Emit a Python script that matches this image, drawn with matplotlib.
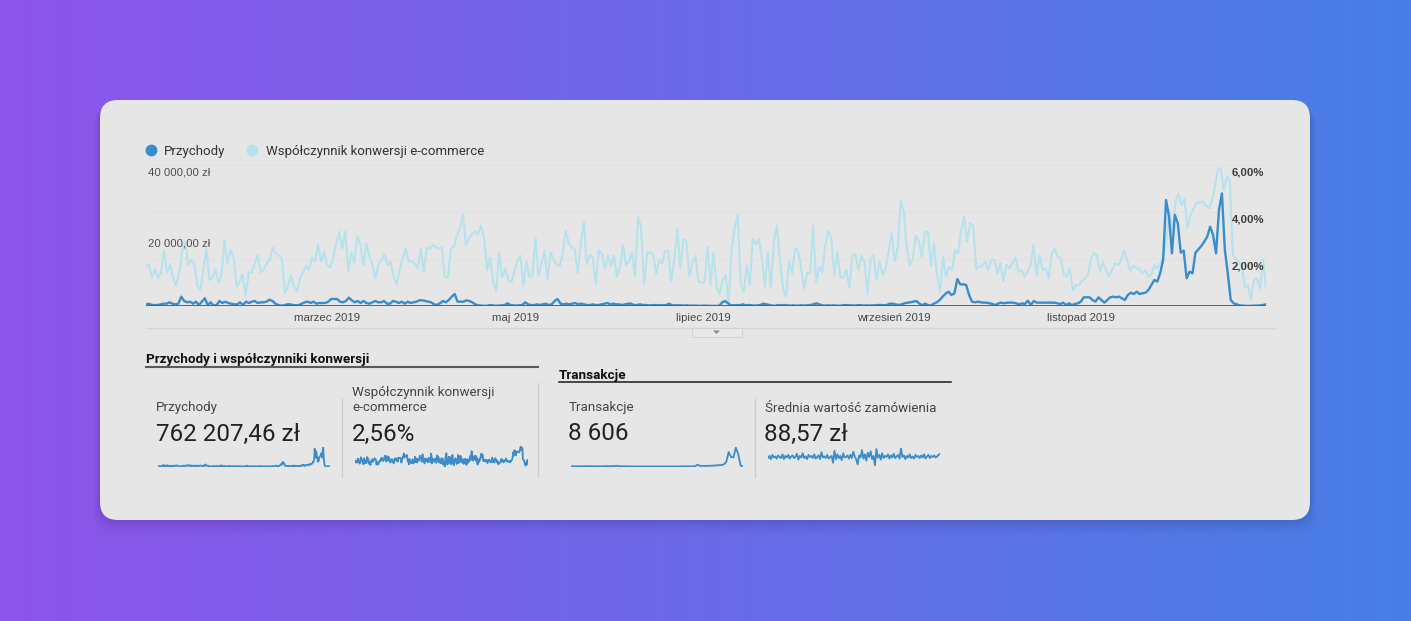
import numpy as np
import pandas as pd
import matplotlib
matplotlib.use("Agg")
import matplotlib.pyplot as plt
from matplotlib.patches import FancyBboxPatch, Rectangle, Polygon

# daily revenue (zł), 2019
revenue = [
    470, 660, 280, 280, 280, 470, 660, 660, 1040, 660, 470, 660, 2650, 1420, 1040, 1230, 660, 1230, 280, 1230,
    2180, 280, 1040, 100, 280, 1420, 850, 1230, 850, 660, 470, 470, 1040, 280, 1230, 850, 1230, 1420, 850, 1040,
    1040, 1230, 1800, 1420, 660, 280, 100, 190, 470, 470, 280, 190, 280, 660, 1040, 1230, 850, 1230, 660, 850,
    850, 850, 1230, 1990, 1990, 1990, 1230, 1040, 1420, 2360, 1610, 1040, 1420, 850, 1420, 850, 660, 1040, 1420, 1040,
    1040, 1420, 660, 660, 1420, 1230, 850, 1230, 660, 1230, 850, 1040, 1230, 1610, 1610,
    1420, 1230, 1040, 470, 280, 760, 1420, 1040, 1700, 2650, 3400, 1230, 1230, 1230, 1610, 1420, 1040, 470, 190, 120,
    60, 60, 280, 190, 60, 120, 190, 280, 760, 280, 190, 120, 190, 280, 1040, 470, 280, 280, 470, 280,
    470, 660, 280, 470, 1420, 1990, 660, 470, 660, 470, 660, 850, 470, 660, 470, 280, 280, 470, 280, 280,
    470, 660, 850, 470, 660, 470, 470, 280, 470, 660, 660, 280, 280, 470, 280, 280, 190, 190, 280, 190,
    280, 190, 280, 660, 190, 190, 190, 190, 120, 190, 60, 120, 120, 60, 60,
    120, 60, 60, 20, 20, 60, 1040, 1420, 760, 190, 190, 280, 190, 470, 190, 280, 190, 120, 190, 280,
    660, 470, 280, 120, 60, 280, 190, 280, 190, 120, 190, 120, 120, 190, 120, 190, 280, 470, 760, 470,
    190, 120, 190, 120, 190, 120, 60, 190, 280, 190, 190, 120, 190, 280, 120, 190, 120, 190, 190, 280,
    280, 190, 280, 660, 660, 470, 280, 470, 760, 945, 1040, 1230, 1420, 760, 190, 660, 280, 120, 660, 1040,
    1700, 2650, 3500, 4070, 3120, 3590, 7660, 6150, 6150, 5960, 3120, 1230, 1040, 1230, 1040,
    950, 950, 760, 570, 280, 760, 950, 760, 950, 950, 950, 760, 470, 760, 570, 1510, 280, 1420, 950, 950,
    950, 950, 950, 950, 950, 760, 570, 950, 280, 760, 280, 570, 760, 1230, 2460, 2460, 2460, 1700, 1230, 2460,
    1700, 950, 1700, 2460, 2650, 2460, 2650, 2180, 1700, 3120, 3780, 3400, 4070, 3400, 3590, 3780, 4540, 5960, 7380, 6900,
    9270, 13050, 30070, 25340, 14940, 25820, 23450, 15130, 15700, 7850, 9740, 9270, 15130, 16080, 17020, 18250, 19670, 22510, 20140, 14940,
    27240, 31960, 15890, 9270, 1700, 760, 470, 190, 100, 30, 30, 30, 100, 100, 190, 280, 470,
]

# daily e-commerce conversion rate (%)
conversion_rate = [
    1.72, 1.74, 1.21, 1.57, 1.18, 1.46, 2.34, 1.43, 1.77, 1.18, 0.87, 1.43, 2.38, 2.74, 1.74, 1.96, 1.82, 0.89, 0.68, 1.53,
    2.43, 1.11, 1.21, 1.57, 1.01, 1.32, 2.81, 1.82, 2.38, 2.10, 0.82, 1.04, 1.35, 0.44, 1.43, 1.43, 1.82, 2.17, 1.43, 1.57,
    1.82, 1.96, 2.48, 2.24, 2.17, 2.03, 0.54, 0.82, 1.32, 0.82, 0.61, 1.18, 1.39, 1.74, 1.53, 2.06, 1.89, 2.60, 1.89, 2.31,
    1.74, 1.63, 2.06, 2.67, 3.16, 2.45, 3.16, 1.46, 2.28, 1.82, 2.99, 2.60, 1.74, 2.67, 2.10, 1.74, 1.18, 1.74, 1.96, 2.20,
    1.74, 1.89, 1.25, 0.92, 1.53, 2.03, 2.45, 1.89, 1.89, 1.82, 1.60, 2.45, 1.46, 2.48, 2.45,
    2.60, 2.52, 2.43, 2.48, 1.25, 1.21, 2.43, 2.52, 3.02, 3.31, 3.90, 2.60, 2.88, 3.05, 3.16, 3.05, 3.42, 2.88, 1.53, 2.06,
    1.04, 0.64, 2.24, 1.21, 1.60, 1.11, 1.01, 1.46, 1.89, 2.14, 0.89, 1.89, 1.25, 1.32, 2.91, 1.28, 1.82, 2.34, 1.15, 2.28,
    2.00, 1.74, 1.70, 2.17, 3.19, 2.67, 2.48, 2.45, 1.39, 2.67, 3.59, 1.77, 2.17, 2.06, 0.92, 2.38, 2.24, 1.57, 2.14, 1.72,
    2.14, 1.25, 1.67, 2.60, 1.74, 1.89, 2.28, 1.25, 3.80, 3.31, 0.92, 2.28, 2.28, 2.20, 1.39, 1.96, 1.82, 2.34, 2.34, 1.04,
    1.96, 3.26, 1.60, 2.84, 2.78, 1.25, 1.82, 2.13, 1.04, 1.01, 1.01, 2.50, 0.89,
    2.28, 0.82, 0.50, 1.11, 1.32, 0.05, 2.45, 3.31, 3.90, 0.97, 0.61, 1.72, 0.89, 2.88, 2.62, 2.85, 2.03, 0.82, 2.28, 0.78,
    2.74, 3.42, 1.89, 0.75, 0.40, 1.89, 1.39, 2.45, 2.34, 1.60, 0.75, 1.39, 1.42, 3.42, 1.01, 1.67, 1.43, 2.60, 3.19, 2.88,
    1.32, 2.31, 1.22, 1.21, 1.53, 0.78, 2.17, 2.20, 1.53, 2.13, 1.89, 0.50, 1.96, 2.17, 1.11, 1.89, 1.32, 1.60, 2.31, 3.09,
    1.89, 2.48, 4.51, 4.01, 2.52, 1.72, 2.03, 2.99, 2.74, 2.10, 3.16, 3.14, 1.72, 2.67, 1.32, 0.58, 2.10, 1.25, 1.67, 1.53,
    2.38, 2.24, 3.19, 3.80, 2.74, 3.52, 3.42, 1.60, 1.67, 1.72, 1.89, 1.53,
    1.96, 1.96, 1.39, 1.82, 1.04, 1.74, 1.60, 1.82, 2.07, 1.46, 1.53, 1.25, 1.46, 1.70, 2.60, 1.32, 2.17, 1.53, 1.60, 1.18,
    2.24, 2.45, 2.10, 2.03, 1.32, 1.25, 1.60, 0.68, 0.89, 0.89, 1.04, 1.18, 1.32, 2.03, 2.24, 2.17, 1.46, 1.89, 1.53, 1.25,
    1.53, 1.82, 1.74, 1.96, 2.38, 1.96, 1.46, 1.74, 1.60, 1.60, 1.39, 1.53, 1.25, 1.32, 1.74, 1.60, 1.82, 2.10, 2.81, 4.09,
    3.16, 4.44, 4.79, 4.30, 4.54, 3.31, 3.87, 4.16, 4.37, 4.44, 4.44, 4.30, 4.16, 4.44, 5.01, 5.79, 5.86, 4.94, 5.50, 5.36,
    2.24, 1.96, 1.89, 1.67, 0.82, 0.85, 0.26, 1.11, 1.18, 0.75, 1.96, 0.75,
]

# sparkline series read from the scorecards
transactions_spark = [
    12, 10, 11, 9, 12, 10, 11, 13, 12, 11, 10, 12, 11, 10, 12, 13, 12, 14, 15, 20,
    14, 12, 11, 10, 9, 8, 9, 8, 8, 9, 8, 8, 9, 8, 8, 9, 8, 8, 9, 8,
    9, 8, 9, 8, 9, 8, 9, 10, 10, 9, 10, 11, 12, 40, 18, 16, 17, 18, 20, 22,
    24, 28, 30, 34, 45, 90, 270, 180, 170, 350, 230, 25, 10,
]
avg_order_spark = [
    84, 92, 80, 96, 86, 90, 82, 94, 88, 84, 98, 80, 92, 86, 96, 82, 90, 94, 84, 88,
    100, 78, 92, 86, 102, 84, 90, 80, 96, 88, 92, 84, 98, 82, 88, 94, 80, 106, 86, 90,
    84, 96, 82, 88, 92, 66, 112, 80, 98, 84, 92, 76, 102, 86, 88, 94, 82, 96, 84, 108,
    90, 80, 60, 94, 86, 114, 82, 98, 74, 104, 88, 110, 80, 92, 56, 118, 86, 96, 78, 102,
    84, 92, 88, 98, 82, 94, 86, 100, 84, 90, 96, 82, 120, 88, 94, 80, 92, 86, 98, 84,
    90, 82, 96, 88, 92, 84, 94, 86, 98, 82, 90, 96, 84, 92, 88, 94, 86, 90, 96, 100,
]

month_ticks = ["2019-03-01", "2019-05-01", "2019-07-01", "2019-09-01", "2019-11-01"]
month_labels = ["marzec 2019", "maj 2019", "lipiec 2019", "wrzesień 2019", "listopad 2019"]
rev_ticks = [20000, 40000]
rev_tick_labels = ["20 000,00 zł", "40 000,00 zł"]
conv_ticks = [2, 4, 6]
conv_tick_labels = ["2,00%", "4,00%", "6,00%"]

series_names = ["Przychody", "Współczynnik konwersji e-commerce"]
cards = [
    ("Przychody", "762 207,46 zł"),
    ("Współczynnik konwersji\ne-commerce", "2,56%"),
    ("Transakcje", "8 606"),
    ("Średnia wartość zamówienia", "88,57 zł"),
]

DARK = "#3a8dca"
LIGHT = "#b5e2ec"
ROBOTO = ["Roboto", "DejaVu Sans"]
ARIAL = ["Liberation Sans", "DejaVu Sans"]

W, H = 1411, 621
fig = plt.figure(figsize=(W / 100, H / 100), dpi=100)


def box(x0, y0, x1, y1):
    return [x0 / W, 1 - y1 / H, (x1 - x0) / W, (y1 - y0) / H]


# background gradient + card
bg = fig.add_axes([0, 0, 1, 1])
t = np.linspace(0, 1, 512)
c1 = np.array(matplotlib.colors.to_rgb("#8d54ea"))
c2 = np.array(matplotlib.colors.to_rgb("#477fe5"))
grad = c1[None, None, :] * (1 - t[None, :, None]) + c2[None, None, :] * t[None, :, None]
bg.imshow(grad, extent=[0, W, H, 0], aspect="auto", zorder=0)
for k, a in [(14, 0.025), (10, 0.03), (6, 0.04), (3, 0.05)]:
    bg.add_patch(FancyBboxPatch((100 - k / 2, 100 + k / 2), 1210 + k, 420 + k / 2,
                                boxstyle="round,pad=0,rounding_size=22",
                                fc="#1a1040", ec="none", alpha=a, zorder=1))
bg.add_patch(FancyBboxPatch((100, 100), 1210, 420, boxstyle="round,pad=0,rounding_size=18",
                            fc="#e6e6e6", ec="none", zorder=2))
bg.set_xlim(0, W)
bg.set_ylim(H, 0)
bg.axis("off")

# legend
bg.plot(151, 150, "o", ms=7.5, color=DARK, zorder=3)
bg.text(164, 151.5, series_names[0], va="center", fontsize=9.5, color="#333333", family=ROBOTO, zorder=3)
bg.plot(252, 150, "o", ms=7.5, color=LIGHT, zorder=3)
bg.text(266, 151.5, series_names[1], va="center", fontsize=9.5, color="#333333", family=ROBOTO, zorder=3)

# divider with tab below chart
bg.plot([146, 1276], [328, 328], color="#d6d6d6", lw=0.9, zorder=3)
bg.add_patch(Rectangle((692, 328), 50, 9, fc="#e9e9e9", ec="#d3d3d3", lw=0.8, zorder=3))
bg.add_patch(Polygon([[713, 330.5], [720, 330.5], [716.5, 334]], closed=True, fc="#8a8a8a", ec="none", zorder=4))

# main chart
ax = fig.add_axes(box(146, 165, 1266, 306))
conv_dates = pd.date_range("2019-01-01", "2019-12-31", periods=len(conversion_rate))
rev_dates = pd.date_range("2019-01-01", "2019-12-31", periods=len(revenue))
for v in conv_ticks:
    ax.axhline(v, color="#e0e0e0", lw=0.7, zorder=0)
ax.plot(conv_dates, conversion_rate, color=LIGHT, lw=1.5)
ax.set_ylim(0, 6)
ax.set_xlim(pd.Timestamp("2019-01-01"), pd.Timestamp("2019-12-31"))
ax2 = ax.twinx()
ax2.plot(rev_dates, revenue, color=DARK, lw=1.7)
ax2.axhline(0, color="#606060", lw=1.4)
ax2.set_ylim(0, 40000)
for a in (ax, ax2):
    a.patch.set_alpha(0)
    a.set_yticks([])
    for s in a.spines.values():
        s.set_visible(False)
ax.set_xticks(pd.to_datetime(month_ticks))
ax.set_xticklabels(month_labels, fontsize=8.2, color="#474747", family=ARIAL)
ax.tick_params(axis="x", length=0, pad=5)
for v, lab in zip(rev_ticks, rev_tick_labels):
    ax2.annotate(lab, xy=(0, v), xycoords=ax2.get_yaxis_transform(), xytext=(1.5, -2),
                 textcoords="offset points", ha="left", va="top", fontsize=8.2,
                 color="#4d4d4d", family=ARIAL)
for v, lab in zip(conv_ticks, conv_tick_labels):
    ax.annotate(lab, xy=(1, v), xycoords=ax.get_yaxis_transform(), xytext=(-1.5, -2),
                textcoords="offset points", ha="right", va="top", fontsize=8.2,
                fontweight="bold", color="#3c3c3c", family=ARIAL)

# section headers
bg.text(146, 360, "Przychody i współczynniki konwersji", va="center", fontsize=9.7,
        fontweight="bold", color="#111111", family=ROBOTO, zorder=3)
bg.plot([146, 538], [366.5, 366.5], color="#5a5a5a", lw=1.5, zorder=3)
bg.text(559, 376, "Transakcje", va="center", fontsize=9.7, fontweight="bold",
        color="#111111", family=ROBOTO, zorder=3)
bg.plot([559, 951], [382, 382], color="#1a1a1a", lw=1.1, zorder=3)

# dividers
for x, y0 in [(341.5, 399), (537.5, 383), (754.5, 399)]:
    bg.plot([x, x], [y0, 477], color="#cccccc", lw=0.9, zorder=3)

# scorecards
card_x = [156, 352, 569, 765]
spark_boxes = [(158, 447, 330, 467), (355, 446, 528, 467), (571, 447, 743, 467), (768, 448, 940, 466)]
spark_data = [revenue, conversion_rate, transactions_spark, avg_order_spark]
for (label, value), x, sb, data in zip(cards, card_x, spark_boxes, spark_data):
    if "\n" in label:
        bg.text(x, 400, label, va="center", fontsize=9.6, color="#444444", family=ROBOTO,
                linespacing=1.15, zorder=3)
    else:
        bg.text(x, 408, label, va="center", fontsize=9.6, color="#444444", family=ROBOTO, zorder=3)
    bg.text(x - 0.5, 434, value, va="center", fontsize=17.5, color="#222222", family=ROBOTO, zorder=3)
    sa = fig.add_axes(box(*sb))
    sa.plot(np.arange(len(data)), data, color=DARK, lw=1.3)
    lo, hi = min(data), max(data)
    sa.set_ylim(lo - (hi - lo) * 0.03, hi + (hi - lo) * 0.03)
    sa.set_xlim(0, len(data) - 1)
    sa.axis("off")

fig.savefig("out.png", dpi=100)
